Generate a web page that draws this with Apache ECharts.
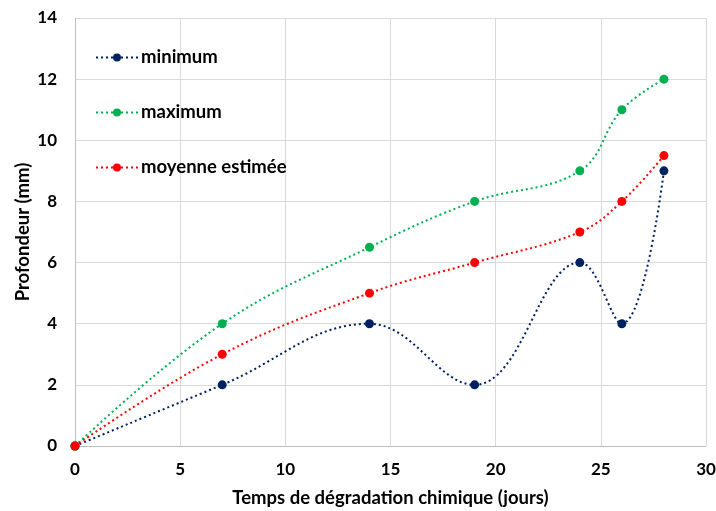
<!DOCTYPE html>
<html><head><meta charset="utf-8">
<script src="https://cdn.jsdelivr.net/npm/echarts@6/dist/echarts.min.js"></script>
<style>html,body{margin:0;padding:0;background:#fff}#c{width:716px;height:511px}</style>
</head><body><div id="c"></div>
<script>
const days = [0, 7, 14, 19, 24, 26, 28];
const minimum = [0, 2, 4, 2, 6, 4, 9];
const maximum = [0, 4, 6.5, 8, 9, 11, 12];
const moyenne = [0, 3, 5, 6, 7, 8, 9.5];
const xTicks = {min: 0, max: 30, interval: 5};
const yTicks = {min: 0, max: 14, interval: 2};
const names = ['minimum', 'maximum', 'moyenne estimée'];
const colors = ['#002060', '#00B050', '#FF0000'];
const values = [minimum, maximum, moyenne];

const font = 'Lato, "Open Sans", sans-serif';
const chart = echarts.init(document.getElementById('c'));
chart.setOption({
  animation: false,
  grid: {left: 75, right: 10, top: 18, bottom: 65, outerBoundsMode: 'none', containLabel: false},
  legend: {
    orient: 'vertical', left: 90, top: 43, itemGap: 36, itemWidth: 42, itemHeight: 10,
    data: names,
    textStyle: {fontFamily: font, fontWeight: 'bold', fontSize: 18.5, color: '#000', padding: [0, 0, 0, -2]}
  },
  xAxis: {
    type: 'value', min: xTicks.min, max: xTicks.max, interval: xTicks.interval,
    name: 'Temps de dégradation chimique (jours)', nameLocation: 'middle', nameGap: 43,
    nameMoveOverlap: false,
    nameTextStyle: {fontFamily: font, fontWeight: 'bold', fontSize: 18.5, color: '#000'},
    axisLine: {lineStyle: {color: '#bfbfbf'}}, axisTick: {show: false},
    axisLabel: {fontFamily: font, fontWeight: 'bold', fontSize: 17, color: '#000', margin: 15},
    splitLine: {lineStyle: {color: '#d9d9d9'}}
  },
  yAxis: {
    type: 'value', min: yTicks.min, max: yTicks.max, interval: yTicks.interval,
    name: 'Profondeur (mm)', nameLocation: 'middle', nameGap: 42,
    nameMoveOverlap: false,
    nameTextStyle: {fontFamily: font, fontWeight: 'bold', fontSize: 18.5, color: '#000'},
    axisLine: {show: true, lineStyle: {color: '#bfbfbf'}}, axisTick: {show: false},
    axisLabel: {fontFamily: font, fontWeight: 'bold', fontSize: 17, color: '#000', margin: 18},
    splitLine: {lineStyle: {color: '#d9d9d9'}}
  },
  series: names.map((n, i) => ({
    name: n, type: 'line', smooth: 0.4,
    data: days.map((d, j) => [d, values[i][j]]),
    symbol: 'circle', symbolSize: 9,
    itemStyle: {color: colors[i]},
    lineStyle: {color: colors[i], width: 2, type: [2, 3]}
  }))
});
</script></body></html>
